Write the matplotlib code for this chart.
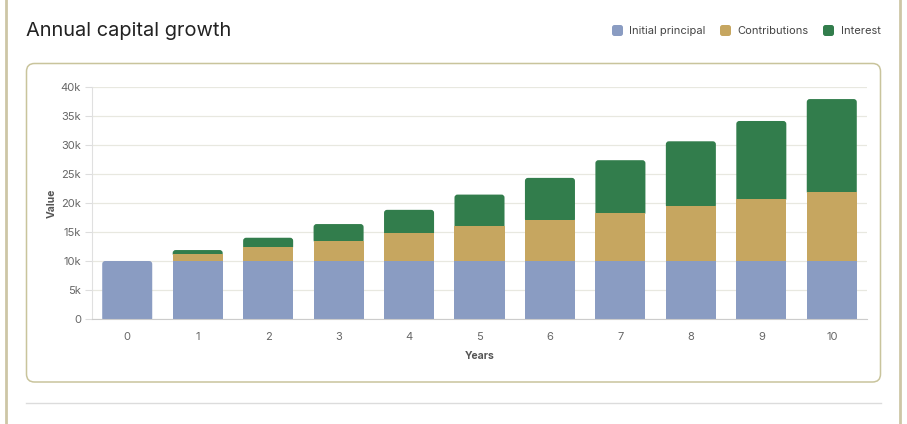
import matplotlib
matplotlib.use("Agg")
import matplotlib.pyplot as plt
import matplotlib.patches as mpatches
import numpy as np

plt.rcParams['font.family'] = ['Inter', 'DejaVu Sans']

# ---- data ----
years = [0, 1, 2, 3, 4, 5, 6, 7, 8, 9, 10]
principal = [10000, 10000, 10000, 10000, 10000, 10000, 10000, 10000, 10000, 10000, 10000]
contributions = [0, 1150, 2350, 3500, 4750, 5950, 7100, 8250, 9500, 10650, 11850]
interest = [0, 740, 1660, 2870, 4070, 5500, 7230, 9130, 11140, 13490, 16070]
series_names = ["Initial principal", "Contributions", "Interest"]
series_colors = ["#8a9cc2", "#c6a660", "#327d4c"]
yticks = [0, 5000, 10000, 15000, 20000, 25000, 30000, 35000, 40000]
ytick_labels = ["0", "5k", "10k", "15k", "20k", "25k", "30k", "35k", "40k"]

W, H = 907, 424
fig = plt.figure(figsize=(W / 100, H / 100), dpi=100)
fig.patch.set_facecolor("white")

# outer frame lines and card
fig.add_artist(plt.Line2D([6 / W, 6 / W], [0, 1], transform=fig.transFigure, color="#cdc6a6", lw=2.0, zorder=-2))
fig.add_artist(plt.Line2D([900 / W, 900 / W], [0, 1], transform=fig.transFigure, color="#cdc6a6", lw=2.0, zorder=-2))
fig.add_artist(plt.Line2D([26 / W, 881 / W], [1 - 403 / H, 1 - 403 / H], transform=fig.transFigure, color="#dcdcdc", lw=1, zorder=-2))
card = mpatches.FancyBboxPatch((26.5, H - 382), 854, 318.5, boxstyle="round,pad=0,rounding_size=8",
                               transform=None, facecolor="white", edgecolor="#c9c49c", lw=1.1, zorder=-1)
fig.add_artist(card)

# title
fig.text(26 / W, 1 - 31 / H, "Annual capital growth", fontsize=14.4, color="#222222", va="center", ha="left")

# legend
leg_items = [(612, 629), (720, 737), (823, 841)]
for (mx, tx), name, col in zip(leg_items, series_names, series_colors):
    fig.add_artist(mpatches.FancyBboxPatch((mx, H - 36), 11, 11, boxstyle="round,pad=0,rounding_size=2.5",
                                           transform=None, facecolor=col, edgecolor="none"))
    fig.text(tx / W, 1 - 30.5 / H, name, fontsize=8, color="#444444", va="center", ha="left")

# axes
ax = fig.add_axes([92 / W, 1 - 319 / H, 775 / W, 232 / H])
ax.set_zorder(5)
ax.set_facecolor("none")
x = np.arange(len(years))
bw = 0.71
px_x = 775 / 11.0
px_y = 232 / 40000.0
r = 3.0
p_arr = np.array(principal)
c_arr = np.array(contributions)
i_arr = np.array(interest)
# rounded top segment (drawn from slightly below its base so its bottom corners are hidden)
for xi, p, c, i in zip(x, p_arr, c_arr, i_arr):
    if i > 0:
        col, base = series_colors[2], p + c - 400
    elif c > 0:
        col, base = series_colors[1], p - 400
    else:
        col, base = series_colors[0], -400
    patch = mpatches.FancyBboxPatch((xi - bw / 2, base), bw, p + c + i - base,
                                    boxstyle=f"round,pad=0,rounding_size={r / px_x}",
                                    mutation_aspect=(1 / px_y) / (1 / px_x),
                                    facecolor=col, edgecolor="none", zorder=2)
    ax.add_patch(patch)
# stacked lower segments
pmask = (c_arr + i_arr) > 0
ax.bar(x[pmask], p_arr[pmask], width=bw, color=series_colors[0], zorder=3, linewidth=0)
mask = i_arr > 0
ax.bar(x[mask], c_arr[mask], bottom=p_arr[mask], width=bw, color=series_colors[1], zorder=3, linewidth=0)

ax.set_xlim(-0.5, 10.5)
ax.set_ylim(0, 40000)
ax.set_yticks(yticks)
ax.set_yticklabels(ytick_labels)
ax.set_xticks(x)
ax.set_xticklabels([str(y) for y in years])
ax.grid(axis="y", color="#e8e8e0", lw=0.9, zorder=0)
ax.set_axisbelow(True)
for s in ["top", "right"]:
    ax.spines[s].set_visible(False)
ax.spines["left"].set_color("#e0e0e0")
ax.spines["bottom"].set_color("#cccccc")
ax.spines["bottom"].set_zorder(6)
ax.tick_params(axis="y", length=5, color="#dddddd", labelsize=8, labelcolor="#666666", pad=3)
ax.tick_params(axis="x", length=0, labelsize=8, labelcolor="#666666", pad=9.5)
ax.set_ylabel("Value", fontsize=7.5, fontweight="bold", color="#555555", labelpad=3)
ax.set_xlabel("Years", fontsize=7.5, fontweight="bold", color="#555555", labelpad=6)

fig.savefig("out.png", dpi=100, facecolor="white")
